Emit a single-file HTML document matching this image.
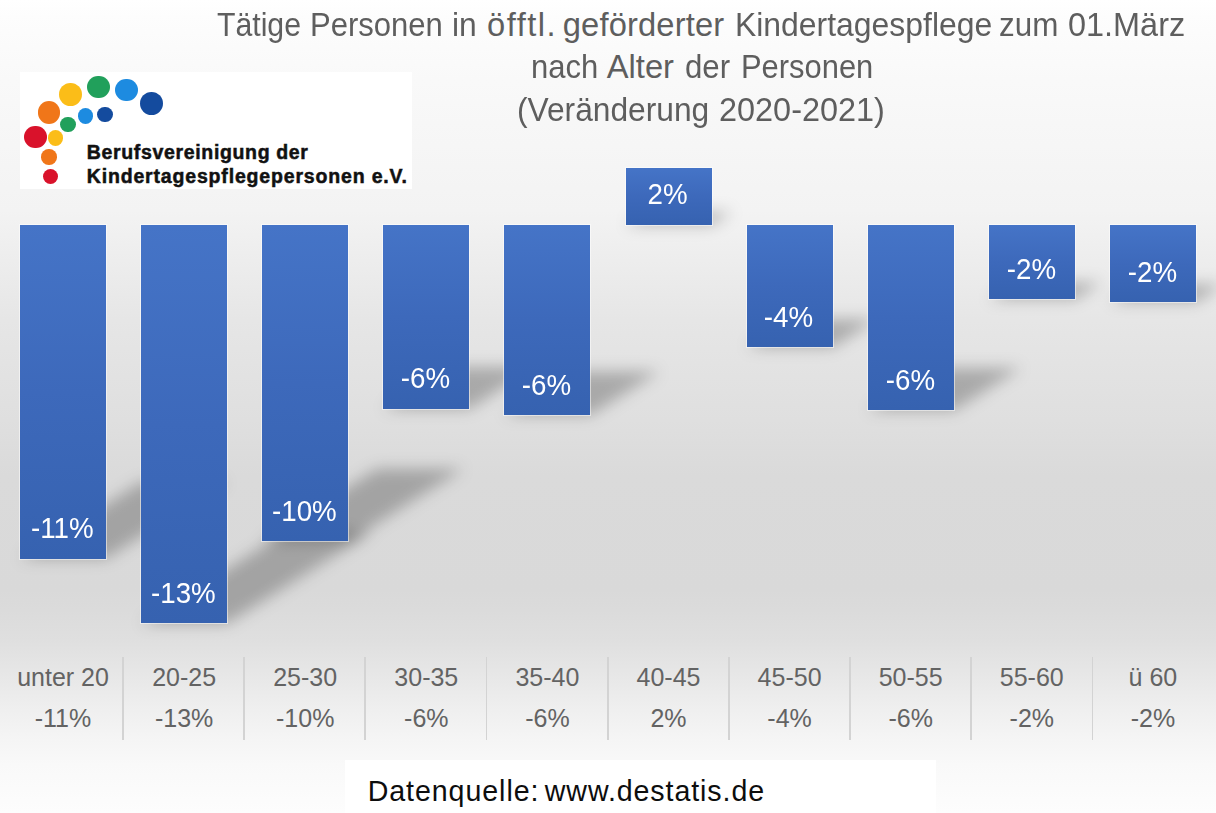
<!DOCTYPE html>
<html><head><meta charset="utf-8"><style>
html,body{margin:0;padding:0;}
body{width:1216px;height:813px;overflow:hidden;position:relative;font-family:"Liberation Sans", sans-serif;
background:linear-gradient(180deg,#ffffff 0px,#fdfdfd 16px,#f9f9f9 80px,#f3f3f3 210px,#e6e6e6 320px,#dfdfdf 420px,#dadada 475px,#d9d9d9 590px,#dbdbdb 610px,#dfdfdf 640px,#e7e7e7 675px,#efefef 710px,#f5f5f5 740px,#f9f9f9 765px,#fdfdfd 813px);}
.sh{position:absolute;left:0;top:0;}
.bar{position:absolute;background:linear-gradient(180deg,#4574c7 0%,#3d69bb 50%,#3662b0 100%);box-shadow:0 0 0 1px rgba(255,255,255,0.5);}
.t{position:absolute;line-height:0;height:0;white-space:nowrap;transform-origin:0 0;}
.tcen{position:absolute;width:1400px;line-height:0;height:0;white-space:nowrap;text-align:center;}
.tcen span{display:inline-block;}
.vl{position:absolute;top:657px;height:83px;width:1.8px;background:#d3d3d3;}
.logo{position:absolute;left:20px;top:72px;width:392px;height:117px;background:#fff;}
.dot{position:absolute;border-radius:50%;}
.src{position:absolute;left:345px;top:760px;width:591px;height:53px;background:#fff;}
</style></head><body>
<div class="logo"></div>
<div class="dot" style="left:24.15px;top:125.90px;width:22.40px;height:22.40px;background:#d9122b"></div>
<div class="dot" style="left:37.70px;top:101.00px;width:22.60px;height:22.60px;background:#f07619"></div>
<div class="dot" style="left:59.40px;top:83.20px;width:22.80px;height:22.80px;background:#fbbd18"></div>
<div class="dot" style="left:87.00px;top:75.70px;width:22.60px;height:22.60px;background:#21a05b"></div>
<div class="dot" style="left:115.00px;top:78.80px;width:22.60px;height:22.60px;background:#1d8be0"></div>
<div class="dot" style="left:139.90px;top:92.10px;width:22.80px;height:22.80px;background:#144b9e"></div>
<div class="dot" style="left:60.40px;top:116.50px;width:15.60px;height:15.60px;background:#21a05b"></div>
<div class="dot" style="left:77.70px;top:108.00px;width:15.60px;height:15.60px;background:#1d8be0"></div>
<div class="dot" style="left:97.20px;top:106.70px;width:15.40px;height:15.40px;background:#144b9e"></div>
<div class="dot" style="left:47.70px;top:130.40px;width:15.60px;height:15.60px;background:#fbbd18"></div>
<div class="dot" style="left:41.40px;top:149.15px;width:15.50px;height:15.50px;background:#f07619"></div>
<div class="dot" style="left:42.60px;top:168.80px;width:15.60px;height:15.60px;background:#d9122b"></div>

<svg class="sh" width="1216" height="813" viewBox="0 0 1216 813"><defs><filter id="bl" x="-30%" y="-30%" width="160%" height="160%"><feGaussianBlur stdDeviation="7.5"/></filter></defs><g fill="#000" fill-opacity="0.25" filter="url(#bl)"><polygon points="20.0,558.6 106.0,558.6 227.3,481.9 141.3,481.9"/><polygon points="141.1,623.5 227.1,623.5 372.0,531.9 286.0,531.9"/><polygon points="262.2,541.4 348.2,541.4 463.3,468.7 377.3,468.7"/><polygon points="383.3,408.9 469.3,408.9 536.1,366.7 450.1,366.7"/><polygon points="504.4,415.0 590.4,415.0 659.5,371.4 573.5,371.4"/><polygon points="625.5,225.3 711.5,225.3 732.4,212.1 646.4,212.1"/><polygon points="746.6,347.4 832.6,347.4 877.0,319.3 791.0,319.3"/><polygon points="867.7,410.5 953.7,410.5 1021.1,367.9 935.1,367.9"/><polygon points="988.8,299.5 1074.8,299.5 1101.8,282.4 1015.8,282.4"/><polygon points="1109.9,302.2 1195.9,302.2 1223.9,284.5 1137.9,284.5"/></g></svg>
<div class="bar" style="left:20.0px;top:225.3px;width:86.0px;height:333.3px"></div>
<div class="tcen" style="left:-637.70px;top:528.19px;font-size:28.6px;color:#ffffff;font-weight:normal;"><span style="transform:scaleX(0.9700)">-11%</span></div>
<div class="bar" style="left:141.1px;top:225.3px;width:86.0px;height:398.2px"></div>
<div class="tcen" style="left:-516.60px;top:593.09px;font-size:28.6px;color:#ffffff;font-weight:normal;"><span style="transform:scaleX(0.9700)">-13%</span></div>
<div class="bar" style="left:262.2px;top:225.3px;width:86.0px;height:316.1px"></div>
<div class="tcen" style="left:-395.50px;top:510.99px;font-size:28.6px;color:#ffffff;font-weight:normal;"><span style="transform:scaleX(0.9700)">-10%</span></div>
<div class="bar" style="left:383.3px;top:225.3px;width:86.0px;height:183.6px"></div>
<div class="tcen" style="left:-274.40px;top:378.49px;font-size:28.6px;color:#ffffff;font-weight:normal;"><span style="transform:scaleX(0.9700)">-6%</span></div>
<div class="bar" style="left:504.4px;top:225.3px;width:86.0px;height:189.7px"></div>
<div class="tcen" style="left:-153.30px;top:384.59px;font-size:28.6px;color:#ffffff;font-weight:normal;"><span style="transform:scaleX(0.9700)">-6%</span></div>
<div class="bar" style="left:625.5px;top:167.8px;width:86.0px;height:57.5px"></div>
<div class="tcen" style="left:-32.20px;top:194.09px;font-size:28.6px;color:#ffffff;font-weight:normal;"><span style="transform:scaleX(0.9700)">2%</span></div>
<div class="bar" style="left:746.6px;top:225.3px;width:86.0px;height:122.1px"></div>
<div class="tcen" style="left:88.90px;top:316.99px;font-size:28.6px;color:#ffffff;font-weight:normal;"><span style="transform:scaleX(0.9700)">-4%</span></div>
<div class="bar" style="left:867.7px;top:225.3px;width:86.0px;height:185.2px"></div>
<div class="tcen" style="left:210.00px;top:380.09px;font-size:28.6px;color:#ffffff;font-weight:normal;"><span style="transform:scaleX(0.9700)">-6%</span></div>
<div class="bar" style="left:988.8px;top:225.3px;width:86.0px;height:74.2px"></div>
<div class="tcen" style="left:331.10px;top:269.09px;font-size:28.6px;color:#ffffff;font-weight:normal;"><span style="transform:scaleX(0.9700)">-2%</span></div>
<div class="bar" style="left:1109.9px;top:225.3px;width:86.0px;height:76.9px"></div>
<div class="tcen" style="left:452.20px;top:271.79px;font-size:28.6px;color:#ffffff;font-weight:normal;"><span style="transform:scaleX(0.9700)">-2%</span></div>
<div class="vl" style="left:122.00px"></div>
<div class="vl" style="left:243.20px"></div>
<div class="vl" style="left:364.40px"></div>
<div class="vl" style="left:485.60px"></div>
<div class="vl" style="left:606.80px"></div>
<div class="vl" style="left:728.00px"></div>
<div class="vl" style="left:849.20px"></div>
<div class="vl" style="left:970.40px"></div>
<div class="vl" style="left:1091.60px"></div>
<div class="tcen" style="left:-637.00px;top:676.94px;font-size:25px;color:#636363;font-weight:normal;"><span style="transform:scaleX(1.0000)">unter 20</span></div>
<div class="tcen" style="left:-637.00px;top:717.64px;font-size:25px;color:#636363;font-weight:normal;"><span style="transform:scaleX(1.0000)">-11%</span></div>
<div class="tcen" style="left:-515.90px;top:676.94px;font-size:25px;color:#636363;font-weight:normal;"><span style="transform:scaleX(1.0000)">20-25</span></div>
<div class="tcen" style="left:-515.90px;top:717.64px;font-size:25px;color:#636363;font-weight:normal;"><span style="transform:scaleX(1.0000)">-13%</span></div>
<div class="tcen" style="left:-394.80px;top:676.94px;font-size:25px;color:#636363;font-weight:normal;"><span style="transform:scaleX(1.0000)">25-30</span></div>
<div class="tcen" style="left:-394.80px;top:717.64px;font-size:25px;color:#636363;font-weight:normal;"><span style="transform:scaleX(1.0000)">-10%</span></div>
<div class="tcen" style="left:-273.70px;top:676.94px;font-size:25px;color:#636363;font-weight:normal;"><span style="transform:scaleX(1.0000)">30-35</span></div>
<div class="tcen" style="left:-273.70px;top:717.64px;font-size:25px;color:#636363;font-weight:normal;"><span style="transform:scaleX(1.0000)">-6%</span></div>
<div class="tcen" style="left:-152.60px;top:676.94px;font-size:25px;color:#636363;font-weight:normal;"><span style="transform:scaleX(1.0000)">35-40</span></div>
<div class="tcen" style="left:-152.60px;top:717.64px;font-size:25px;color:#636363;font-weight:normal;"><span style="transform:scaleX(1.0000)">-6%</span></div>
<div class="tcen" style="left:-31.50px;top:676.94px;font-size:25px;color:#636363;font-weight:normal;"><span style="transform:scaleX(1.0000)">40-45</span></div>
<div class="tcen" style="left:-31.50px;top:717.64px;font-size:25px;color:#636363;font-weight:normal;"><span style="transform:scaleX(1.0000)">2%</span></div>
<div class="tcen" style="left:89.60px;top:676.94px;font-size:25px;color:#636363;font-weight:normal;"><span style="transform:scaleX(1.0000)">45-50</span></div>
<div class="tcen" style="left:89.60px;top:717.64px;font-size:25px;color:#636363;font-weight:normal;"><span style="transform:scaleX(1.0000)">-4%</span></div>
<div class="tcen" style="left:210.70px;top:676.94px;font-size:25px;color:#636363;font-weight:normal;"><span style="transform:scaleX(1.0000)">50-55</span></div>
<div class="tcen" style="left:210.70px;top:717.64px;font-size:25px;color:#636363;font-weight:normal;"><span style="transform:scaleX(1.0000)">-6%</span></div>
<div class="tcen" style="left:331.80px;top:676.94px;font-size:25px;color:#636363;font-weight:normal;"><span style="transform:scaleX(1.0000)">55-60</span></div>
<div class="tcen" style="left:331.80px;top:717.64px;font-size:25px;color:#636363;font-weight:normal;"><span style="transform:scaleX(1.0000)">-2%</span></div>
<div class="tcen" style="left:452.90px;top:676.94px;font-size:25px;color:#636363;font-weight:normal;"><span style="transform:scaleX(1.0000)">ü 60</span></div>
<div class="tcen" style="left:452.90px;top:717.64px;font-size:25px;color:#636363;font-weight:normal;"><span style="transform:scaleX(1.0000)">-2%</span></div>
<div class="src"></div>

<div class="t" style="left:217.30px;top:25.17px;font-size:32.7px;color:#5e5e5e;font-weight:normal;transform:scaleX(0.9244);">Tätige</div>
<div class="t" style="left:309.90px;top:25.17px;font-size:32.7px;color:#5e5e5e;font-weight:normal;transform:scaleX(0.9496);">Personen</div>
<div class="t" style="left:452.23px;top:25.17px;font-size:32.7px;color:#5e5e5e;font-weight:normal;transform:scaleX(0.9739);">in</div>
<div class="t" style="left:487.00px;top:25.17px;font-size:32.7px;color:#5e5e5e;font-weight:normal;transform:scaleX(1.0000);letter-spacing:1.480px;">öfftl.</div>
<div class="t" style="left:562.80px;top:25.17px;font-size:32.7px;color:#5e5e5e;font-weight:normal;transform:scaleX(1.0000);letter-spacing:0.140px;">geförderter</div>
<div class="t" style="left:734.75px;top:25.17px;font-size:32.7px;color:#5e5e5e;font-weight:normal;transform:scaleX(0.9762);">Kindertagespflege</div>
<div class="t" style="left:998.94px;top:25.17px;font-size:32.7px;color:#5e5e5e;font-weight:normal;transform:scaleX(0.9610);">zum</div>
<div class="t" style="left:1068.11px;top:25.17px;font-size:32.7px;color:#5e5e5e;font-weight:normal;transform:scaleX(0.9922);">01.März</div>
<div class="t" style="left:530.85px;top:67.27px;font-size:32.7px;color:#5e5e5e;font-weight:normal;transform:scaleX(0.9493);">nach</div>
<div class="t" style="left:606.80px;top:67.27px;font-size:32.7px;color:#5e5e5e;font-weight:normal;transform:scaleX(1.0000);">Alter</div>
<div class="t" style="left:685.35px;top:67.27px;font-size:32.7px;color:#5e5e5e;font-weight:normal;transform:scaleX(0.9543);">der</div>
<div class="t" style="left:741.41px;top:67.27px;font-size:32.7px;color:#5e5e5e;font-weight:normal;transform:scaleX(0.9453);">Personen</div>
<div class="t" style="left:516.93px;top:110.47px;font-size:32.7px;color:#5e5e5e;font-weight:normal;transform:scaleX(0.9704);">(Veränderung</div>
<div class="t" style="left:719.41px;top:110.47px;font-size:32.7px;color:#5e5e5e;font-weight:normal;transform:scaleX(0.9921);">2020-2021)</div>
<div class="t" style="left:367.70px;top:790.59px;font-size:28.6px;color:#0d0d0d;font-weight:normal;transform:scaleX(1.0000);letter-spacing:0.927px;">Datenquelle:</div>
<div class="t" style="left:544.80px;top:790.59px;font-size:28.6px;color:#0d0d0d;font-weight:normal;transform:scaleX(1.0000);letter-spacing:0.907px;">www.destatis.de</div>
<div class="t" style="left:86.80px;top:152.04px;font-size:19.5px;color:#111111;font-weight:bold;transform:scaleX(1.0000);-webkit-text-stroke:0.5px #111;letter-spacing:0.655px;">Berufsvereinigung der</div>
<div class="t" style="left:86.80px;top:176.34px;font-size:19.5px;color:#111111;font-weight:bold;transform:scaleX(1.0000);-webkit-text-stroke:0.5px #111;letter-spacing:0.828px;">Kindertagespflegepersonen e.V.</div>
</body></html>
